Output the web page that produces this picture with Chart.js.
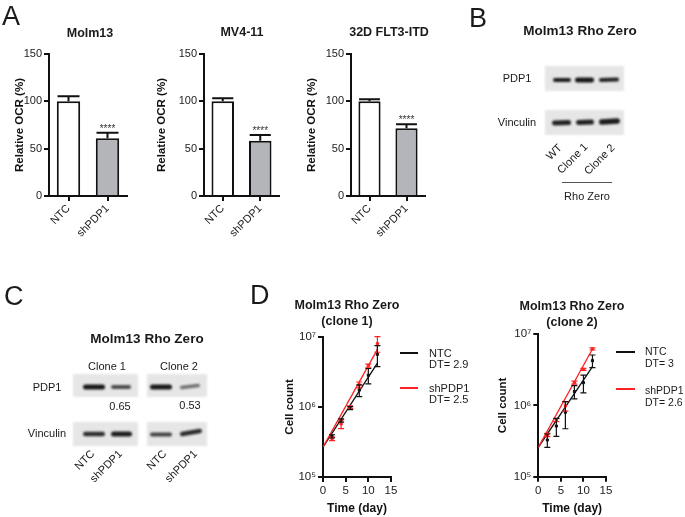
<!DOCTYPE html>
<html><head><meta charset="utf-8">
<script src="https://cdn.jsdelivr.net/npm/chart.js@4.4.1/dist/chart.umd.min.js"></script>
<style>
html,body{margin:0;padding:0;background:#fff;}
#fig{position:relative;width:685px;height:517px;overflow:hidden;font-family:'Liberation Sans',Arial,sans-serif;color:#1a1a1a;}
canvas{position:absolute;}
.t{position:absolute;white-space:nowrap;line-height:1;}
</style></head><body><div id="fig"></div>
<script>
// ---------- data ----------
const barCategories = ['NTC', 'shPDP1'];
const molm13OCR = [100, 61];
const molm13Err = [5.3, 5.8];
const mv411OCR = [100, 58.4];
const mv411Err = [3.2, 6.0];
const flt3OCR = [100, 71.5];
const flt3Err = [2.1, 4.2];
const sigMarks = ['', '****'];
const ocrTicks = [0, 50, 100, 150];

const days = [2, 4, 6, 8, 10, 12];
const fitDays = [0, 12];
const c1NtcMean = [3.8e5, 6.4e5, 9.6e5, 1.73e6, 2.82e6, 5.6e6];
const c1NtcSd   = [0.2e5, 0.35e5, 0.5e5, 0.33e6, 0.7e6, 1.85e6];
const c1ShMean  = [3.5e5, 5.7e5, 9.9e5, 2.06e6, 3.87e6, 8.0e6];
const c1ShSd    = [0.2e5, 0.8e5, 0.4e5, 0.2e6, 0.2e6, 2.0e6];
const c1NtcFit  = [2.67e5, 4.2e6];
const c1ShFit   = [2.67e5, 6.6e6];
const c2NtcMean = [3.27e5, 5.13e5, 8.0e5, 1.56e6, 2.08e6, 4.23e6];
const c2NtcSd   = [0.7e5, 1.45e5, 3.3e5, 0.33e6, 0.58e6, 0.85e6];
const c2ShMean  = [3.84e5, 6.22e5, 9.8e5, 2.08e6, 3.2e6, 6.17e6];
const c2ShSd    = [0.2e5, 0.3e5, 1.5e5, 0.1e6, 0.1e6, 0.2e6];
const c2NtcFit  = [2.58e5, 3.48e6];
const c2ShFit   = [2.58e5, 6.17e6];
const logTicks = [1e5, 1e6, 1e7];
const dayMax = 15;
const dt1 = ['DT= 2.9', 'DT= 2.5'];
const dt2 = ['DT= 3', 'DT= 2.6'];

// ---------- helpers ----------
const fig = document.getElementById('fig');
const FONT = "'Liberation Sans', Arial, sans-serif";
function txt(s, cx, cy, size, o = {}) {
  const d = document.createElement('div');
  d.className = 't'; d.textContent = s;
  d.style.fontSize = size + 'px';
  if (o.bold) d.style.fontWeight = 'bold';
  d.style.left = cx + 'px'; d.style.top = cy + 'px';
  const tx = o.align === 'left' ? '0' : (o.align === 'right' ? '-100%' : '-50%');
  d.style.transform = `translate(${tx},-50%)`;
  fig.appendChild(d);
}
function letter(s, left, top) {
  const d = document.createElement('div');
  d.className = 't'; d.textContent = s;
  d.style.fontSize = '27px'; d.style.left = left + 'px'; d.style.top = top + 'px';
  fig.appendChild(d);
}
function rotLabel(s, ax, ay, size) {
  const d = document.createElement('div');
  d.className = 't'; d.textContent = s;
  d.style.fontSize = size + 'px';
  d.style.right = (685 - ax) + 'px'; d.style.top = ay + 'px';
  d.style.transformOrigin = '100% 50%';
  d.style.transform = 'translateY(-50%) rotate(-45deg)';
  fig.appendChild(d);
}
function hline(x0, x1, y, color, th) {
  const d = document.createElement('div');
  d.style.position = 'absolute'; d.style.left = x0 + 'px'; d.style.top = (y - th / 2) + 'px';
  d.style.width = (x1 - x0) + 'px'; d.style.height = th + 'px'; d.style.background = color;
  fig.appendChild(d);
}
function mkCanvas(left, top, w, h) {
  const c = document.createElement('canvas');
  c.width = w; c.height = h;
  c.style.left = left + 'px'; c.style.top = top + 'px';
  c.style.width = w + 'px'; c.style.height = h + 'px';
  fig.appendChild(c); return c;
}

// ---------- western blots (drawn bands) ----------
const bc = mkCanvas(0, 0, 685, 517);
const bx = bc.getContext('2d');
function blotBox(x0, y0, x1, y1) {
  bx.save(); bx.filter = 'blur(0.8px)'; bx.fillStyle = '#e6e6e6';
  bx.fillRect(x0, y0, x1 - x0, y1 - y0); bx.restore();
}
function band(xa, xb, yc, th, alpha, tilt = 0) {
  bx.save(); bx.filter = 'blur(1.1px)';
  bx.strokeStyle = `rgba(12,12,12,${alpha})`; bx.lineWidth = th; bx.lineCap = 'round';
  bx.beginPath(); bx.moveTo(xa + th / 2, yc); bx.lineTo(xb - th / 2, yc - tilt); bx.stroke();
  bx.restore();
}
// B
blotBox(545, 66, 624, 91);
band(553, 571, 80, 4, 0.92); band(575, 594, 80, 5, 0.95); band(599, 619, 80, 4, 0.9, 0.5);
blotBox(545, 110, 624, 135);
band(552, 571, 123, 5, 0.9, 0.5); band(576, 594, 122.5, 5, 0.9, 0.5); band(599, 620, 122, 5.5, 0.92, 1);
// C
blotBox(73, 374, 138, 397); blotBox(147, 374, 207, 397);
band(83, 105, 387, 5, 0.95); band(111, 131, 387, 4, 0.7);
band(150, 172, 387, 5, 0.95); band(180, 200, 387.5, 3.5, 0.55, 2);
blotBox(73, 422, 138, 446); blotBox(147, 422, 207, 446);
band(83, 105, 434, 4.5, 0.85); band(111, 132, 434, 5, 0.92);
band(150, 172, 434.5, 4, 0.75); band(180, 202, 434, 4.5, 0.85, 3);

// ---------- plugins ----------
const barErrPlugin = {
  id: 'barErr',
  afterDatasetsDraw(chart) {
    const ctx = chart.ctx, ys = chart.scales.y;
    chart.data.datasets.forEach((ds, di) => {
      const meta = chart.getDatasetMeta(di);
      meta.data.forEach((bar, i) => {
        const yTop = ys.getPixelForValue(ds.data[i] + ds.errPlus[i]);
        const cap = bar.width * 0.47;
        ctx.save(); ctx.strokeStyle = '#111'; ctx.lineWidth = 2;
        ctx.beginPath(); ctx.moveTo(bar.x, bar.y); ctx.lineTo(bar.x, yTop);
        ctx.moveTo(bar.x - cap, yTop); ctx.lineTo(bar.x + cap, yTop); ctx.stroke();
        if (ds.sig && ds.sig[i]) {
          ctx.fillStyle = '#333'; ctx.font = '10px ' + FONT; ctx.textAlign = 'center';
          ctx.fillText(ds.sig[i], bar.x, yTop - 1);
        }
        ctx.restore();
      });
    });
  }
};
const ptErrPlugin = {
  id: 'ptErr',
  afterDatasetsDraw(chart) {
    const ctx = chart.ctx, xs = chart.scales.x, ys = chart.scales.y;
    chart.data.datasets.forEach(ds => {
      if (!ds.sd) return;
      ctx.save(); ctx.strokeStyle = ds.borderColor; ctx.lineWidth = 1.2;
      ds.data.forEach((p, i) => {
        const x = xs.getPixelForValue(p.x);
        const yh = ys.getPixelForValue(p.y + ds.sd[i]);
        const yl = ys.getPixelForValue(p.y - ds.sd[i]);
        ctx.beginPath(); ctx.moveTo(x, yh); ctx.lineTo(x, yl);
        ctx.moveTo(x - 3, yh); ctx.lineTo(x + 3, yh);
        ctx.moveTo(x - 3, yl); ctx.lineTo(x + 3, yl); ctx.stroke();
      });
      ctx.restore();
    });
  }
};

// ---------- Panel A bar charts ----------
function barChart(left, top, w, h, yW, xH, padTop, padRight, titlePad, vals, errs) {
  const c = mkCanvas(left, top, w, h);
  new Chart(c, {
    type: 'bar',
    data: {
      labels: barCategories,
      datasets: [{
        data: vals, errPlus: errs, sig: sigMarks,
        backgroundColor: ['#ffffff', '#b4b4bb'], borderColor: '#111', borderWidth: 2,
        barPercentage: 0.6, categoryPercentage: 1.0
      }]
    },
    options: {
      responsive: false, animation: false,
      layout: { padding: { top: padTop, right: padRight, left: 0, bottom: 0 } },
      plugins: { legend: { display: false }, tooltip: { enabled: false } },
      scales: {
        x: {
          afterFit: s => { s.height = xH; },
          grid: { offset: false, drawOnChartArea: false, tickLength: 5, color: '#111', lineWidth: 2 },
          border: { display: true, color: '#111', width: 2 },
          ticks: { minRotation: 45, maxRotation: 45, padding: 1, color: '#222', font: { family: FONT, size: 11 } }
        },
        y: {
          min: 0, max: 150,
          afterFit: s => { s.width = yW; },
          afterBuildTicks: s => { s.ticks = ocrTicks.map(v => ({ value: v })); },
          grid: { drawOnChartArea: false, tickLength: 5, color: '#111', lineWidth: 2 },
          border: { display: true, color: '#111', width: 2 },
          ticks: { padding: 2, color: '#222', font: { family: FONT, size: 11 } },
          title: { display: true, text: 'Relative OCR (%)', color: '#111', padding: { top: titlePad, bottom: 0 },
                   font: { family: FONT, size: 11.5, weight: 'bold' } }
        }
      }
    },
    plugins: [barErrPlugin]
  });
}
barChart(0, 40, 135, 205, 49, 49, 14, 8, 13, molm13OCR, molm13Err);
barChart(155, 40, 132, 205, 49, 49, 14, 8, 0, mv411OCR, mv411Err);
barChart(302, 40, 131, 205, 49, 49, 14, 8, 2.6, flt3OCR, flt3Err);

// ---------- Panel D growth charts ----------
const sup = { 5: '\u2075', 6: '\u2076', 7: '\u2077' };
function growthChart(left, top, w, h, yW, xH, padTop, yTitlePad, nm, nsd, sm, ssd, nfit, sfit) {
  const c = mkCanvas(left, top, w, h);
  const pts = (arr, xs) => xs.map((d, i) => ({ x: d, y: arr[i] }));
  new Chart(c, {
    type: 'scatter',
    data: {
      datasets: [
        { data: pts(sfit, fitDays), borderColor: '#ff2222', borderWidth: 1.3, pointRadius: 0, showLine: true },
        { data: pts(sm, days), sd: ssd, borderColor: '#ff2222', backgroundColor: '#ff2222', pointRadius: 1.5, pointStyle: 'rect', showLine: false },
        { data: pts(nfit, fitDays), borderColor: '#111', borderWidth: 1.3, pointRadius: 0, showLine: true },
        { data: pts(nm, days), sd: nsd, borderColor: '#111', backgroundColor: '#111', pointRadius: 1.5, pointStyle: 'rect', showLine: false }
      ]
    },
    options: {
      responsive: false, animation: false,
      layout: { padding: { top: padTop, right: 10, left: 0, bottom: 0 } },
      plugins: { legend: { display: false }, tooltip: { enabled: false } },
      scales: {
        x: {
          type: 'linear', min: 0, max: dayMax,
          afterFit: s => { s.height = xH; },
          grid: { drawOnChartArea: false, tickLength: 5, color: '#111', lineWidth: 2 },
          border: { display: true, color: '#111', width: 2 },
          ticks: { stepSize: 5, padding: 2, color: '#222', font: { family: FONT, size: 11.5 } },
          title: { display: true, text: 'Time (day)', color: '#111', padding: { top: 0, bottom: 1 },
                   font: { family: FONT, size: 12, weight: 'bold' } }
        },
        y: {
          type: 'logarithmic', min: logTicks[0], max: logTicks[logTicks.length - 1],
          afterFit: s => { s.width = yW; },
          afterBuildTicks: s => { s.ticks = logTicks.map(v => ({ value: v })); },
          grid: { drawOnChartArea: false, tickLength: 5, color: '#111', lineWidth: 2 },
          border: { display: true, color: '#111', width: 2 },
          ticks: { padding: 2, color: '#222', font: { family: FONT, size: 11.5 },
                   callback: v => '10' + sup[Math.round(Math.log10(v))] },
          title: { display: true, text: 'Cell count', color: '#111', padding: { top: yTitlePad, bottom: 0 },
                   font: { family: FONT, size: 11.5, weight: 'bold' } }
        }
      }
    },
    plugins: [ptErrPlugin]
  });
}
growthChart(270, 326, 131, 191, 53, 40, 10.7, 13, c1NtcMean, c1NtcSd, c1ShMean, c1ShSd, c1NtcFit, c1ShFit);
growthChart(485, 324, 131, 193, 53.3, 40.3, 10, 11, c2NtcMean, c2NtcSd, c2ShMean, c2ShSd, c2NtcFit, c2ShFit);

// ---------- text ----------
letter('A', 2, 2.5); letter('B', 469, 5); letter('C', 4, 283); letter('D', 250, 282);
txt('Molm13', 90, 33, 12.5, { bold: true });
txt('MV4-11', 242, 32, 12.5, { bold: true });
txt('32D FLT3-ITD', 389, 32, 12.5, { bold: true });

txt('Molm13 Rho Zero', 580, 31, 13.5, { bold: true });
txt('PDP1', 517, 78, 11); txt('Vinculin', 517, 122, 11);
rotLabel('WT', 560, 146, 11); rotLabel('Clone 1', 586, 145, 11); rotLabel('Clone 2', 613, 146, 11);
hline(562, 612, 182, '#555', 1);
txt('Rho Zero', 587, 196, 11);

txt('Molm13 Rho Zero', 147, 339, 13.5, { bold: true });
txt('Clone 1', 107, 366, 11); txt('Clone 2', 179, 366, 11);
txt('PDP1', 47, 387, 11); txt('Vinculin', 47, 433, 11);
txt('0.65', 120, 406, 11); txt('0.53', 190, 405, 11);
rotLabel('NTC', 93, 452, 11); rotLabel('shPDP1', 120, 452, 11);
rotLabel('NTC', 165, 452, 11); rotLabel('shPDP1', 195, 452, 11);

txt('Molm13 Rho Zero', 347, 305, 12.5, { bold: true }); txt('(clone 1)', 347, 321, 12.5, { bold: true });
txt('Molm13 Rho Zero', 572, 306, 12.5, { bold: true }); txt('(clone 2)', 572, 322, 12.5, { bold: true });

hline(400, 418, 353, '#111', 1.3); txt('NTC', 429, 353, 11, { align: 'left' }); txt(dt1[0], 429, 364, 11, { align: 'left' });
hline(400, 418, 388, '#ff2222', 1.3); txt('shPDP1', 429, 388, 11, { align: 'left' }); txt(dt1[1], 429, 399, 11, { align: 'left' });
hline(616, 635, 352, '#111', 1.3); txt('NTC', 645, 351, 10.5, { align: 'left' }); txt(dt2[0], 645, 363, 10.5, { align: 'left' });
hline(616, 635, 389, '#ff2222', 1.3); txt('shPDP1', 645, 390, 10.5, { align: 'left' }); txt(dt2[1], 645, 402, 10.5, { align: 'left' });
</script></body></html>
